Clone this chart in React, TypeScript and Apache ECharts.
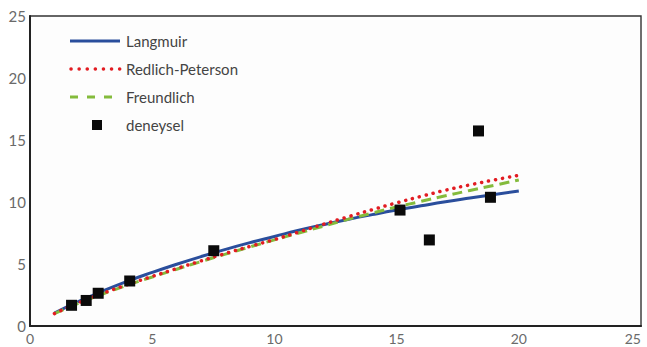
import React, { useEffect, useRef } from "react";
import * as echarts from "echarts";

const concentrations = [1, 2, 3, 4, 5, 6, 7, 8, 9, 10, 11, 12, 13, 14, 15, 16, 17, 18, 19, 20];
const langmuir = [1.05, 1.98, 2.84, 3.62, 4.32, 4.98, 5.6, 6.18, 6.72, 7.22, 7.72, 8.17, 8.59, 8.98, 9.35, 9.69, 10.02, 10.32, 10.61, 10.89];
const redlichPeterson = [1.0, 1.88, 2.65, 3.35, 4.0, 4.63, 5.25, 5.85, 6.42, 6.97, 7.58, 8.2, 8.8, 9.38, 9.93, 10.45, 10.95, 11.38, 11.78, 12.15];
const freundlich = [1.0, 1.85, 2.6, 3.3, 3.95, 4.58, 5.2, 5.8, 6.38, 6.95, 7.5, 8.05, 8.6, 9.1, 9.6, 10.05, 10.5, 10.93, 11.35, 11.77];
const expX = [1.7, 2.3, 2.79, 4.08, 7.52, 15.14, 16.34, 18.35, 18.84];
const expY = [1.67, 2.06, 2.64, 3.63, 6.07, 9.35, 6.94, 15.73, 10.38];
const axisTicks = [0, 5, 10, 15, 20, 25];
const legendNames = ["Langmuir", "Redlich-Peterson", "Freundlich", "deneysel"];

const BLUE = "#2a4e9c";
const RED = "#e21c22";
const GREEN = "#84bb3c";
const FONT = "Lato";

export default function App() {
  const ref = useRef<HTMLDivElement>(null);
  useEffect(() => {
    if (!ref.current) return;
    const chart = echarts.init(ref.current, undefined, { renderer: "svg" });
    const pairs = (ys: number[]) => concentrations.map((c, i) => [c, ys[i]]);
    const axisCommon = {
      type: "value" as const,
      min: axisTicks[0],
      max: axisTicks[axisTicks.length - 1],
      interval: 5,
      axisLine: { show: true, lineStyle: { color: "#222", width: 2 } },
      axisTick: { show: false },
      splitLine: { show: false },
    };
    const legendY = [41, 69, 97, 125];
    chart.setOption({
      animation: false,
      backgroundColor: "#ffffff",
      grid: {
        left: 30, right: 6, top: 16, bottom: 21,
        containLabel: false, outerBoundsMode: "none",
        show: true, borderColor: "#333", borderWidth: 1.4, backgroundColor: "#fdfdfd",
      },
      xAxis: { ...axisCommon, axisLabel: { color: "#6a6a6a", fontSize: 14, fontFamily: FONT, margin: 5, alignMaxLabel: "right" } },
      yAxis: { ...axisCommon, axisLabel: { color: "#6a6a6a", fontSize: 15, fontFamily: FONT, margin: 4 } },
      series: [
        { name: legendNames[0], type: "line", data: pairs(langmuir), showSymbol: false, smooth: true, lineStyle: { color: BLUE, width: 3 }, z: 2 },
        { name: legendNames[2], type: "line", data: pairs(freundlich), showSymbol: false, smooth: true, lineStyle: { color: GREEN, width: 3, type: [10, 6] }, z: 3 },
        { name: legendNames[1], type: "line", data: pairs(redlichPeterson), showSymbol: false, smooth: true, lineStyle: { color: RED, width: 3.5, type: [0.1, 7], cap: "round" }, z: 4 },
        { name: legendNames[3], type: "scatter", data: expX.map((x, i) => [x, expY[i]]), symbol: "rect", symbolSize: 11, itemStyle: { color: "#0a0a0a", opacity: 1 }, z: 5 },
      ],
      graphic: [
        { type: "line", shape: { x1: 70, y1: legendY[0], x2: 120, y2: legendY[0] }, style: { stroke: BLUE, lineWidth: 3 } },
        { type: "line", shape: { x1: 71, y1: legendY[1], x2: 120, y2: legendY[1] }, style: { stroke: RED, lineWidth: 3.5, lineDash: [0.1, 8], lineCap: "round" } },
        { type: "line", shape: { x1: 70, y1: legendY[2], x2: 120, y2: legendY[2] }, style: { stroke: GREEN, lineWidth: 3, lineDash: [8, 9] } },
        { type: "rect", shape: { x: 92, y: legendY[3] - 5, width: 10, height: 10 }, style: { fill: "#0a0a0a" } },
        ...legendNames.map((n, i) => ({
          type: "text",
          x: 126,
          y: legendY[i],
          style: { text: n, fill: "#444", fontSize: 15, fontFamily: FONT, verticalAlign: "middle", align: "left" },
        })),
      ],
    });
    return () => chart.dispose();
  }, []);
  return <div ref={ref} style={{ position: "fixed", left: 0, top: 0, width: 647, height: 347 }} />;
}
